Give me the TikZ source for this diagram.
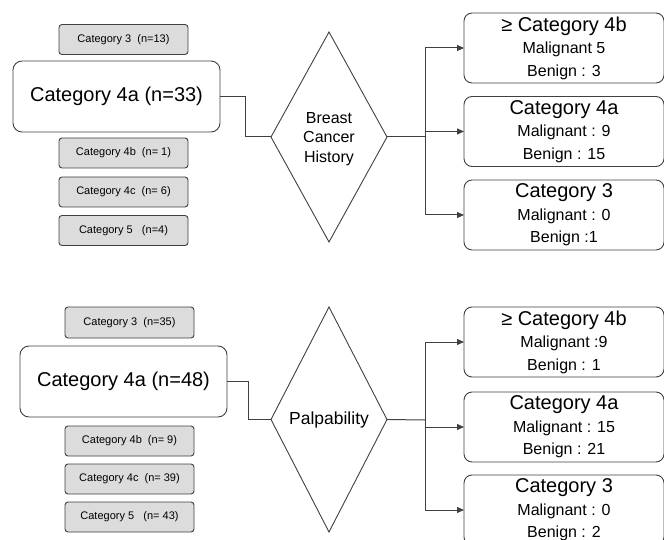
\documentclass[tikz,border=0pt]{standalone}
\usepackage{fontspec}
\setmainfont{Liberation Sans}
\usetikzlibrary{shapes.geometric,arrows.meta}
\definecolor{linegray}{HTML}{404040}
\definecolor{boxfill}{HTML}{DCDCDC}
\tikzset{
  every node/.style={inner sep=0pt, outer sep=0pt},
  smallbox/.style={draw=linegray, line width=0.9pt, fill=boxfill, rounded corners=3pt,
    minimum width=129pt, minimum height=30pt, font=\fontsize{11}{13}\selectfont},
  bigbox/.style={draw=linegray, line width=0.9pt, fill=white, rounded corners=9pt,
    minimum width=207pt, minimum height=71pt, font=\fontsize{20}{24}\selectfont},
  resbox/.style={draw=linegray, line width=0.9pt, fill=white, rounded corners=8pt,
    minimum width=200pt, minimum height=70pt, align=center, font=\fontsize{16}{22.5}\selectfont},
  decide/.style={draw=linegray, line width=0.9pt, shape=diamond, aspect=0.55,
    minimum width=116pt, align=center},
  conn/.style={draw=linegray, line width=1pt},
  arr/.style={conn, -{Triangle[length=7pt,width=6pt]}},
}
\newcommand{\ttl}[1]{{\fontsize{20}{22}\selectfont #1}}
\begin{document}
\begin{tikzpicture}[x=1pt,y=-1pt]
\useasboundingbox (0,0) rectangle (664,540);
\clip (0,0) rectangle (664,540);
% ---------- top ----------
\node[smallbox] (ta3) at (123.5,39.5) {Category 3 \ (n=13)};
\node[bigbox] (tbig) at (116.5,96.5) {Category 4a (n=33)};
\node[smallbox] (ta4b) at (123.5,153) {Category 4b \ (n= 1)};
\node[smallbox] (ta4c) at (123.5,192) {Category 4c \ (n= 6)};
\node[smallbox] (ta5) at (123.5,230.5) {Category 5 \ \ (n=4)};
\node[decide, minimum height=210pt, font=\fontsize{16}{19.5}\selectfont] (tdia) at (329,137) {};
\node[font=\fontsize{16}{19.5}\selectfont, align=center] (tdiatext) at (329,139) {Breast\\Cancer\\History};
\node[resbox] (tr1) at (564,48) {\ttl{≥ Category 4b}\\Malignant 5\\Benign : 3};
\node[resbox] (tr2) at (564,131.5) {\ttl{Category 4a}\\Malignant : 9\\Benign : 15};
\node[resbox] (tr3) at (564,215) {\ttl{Category 3}\\Malignant : 0\\Benign :1};
\coordinate (tj) at (425,137);
\draw[conn] (tbig.east) -- ++(25,0) |- (tdia.west);
\draw[conn] (tdia.east) -- (tj);
\draw[arr] (tj) |- (tr1.west);
\draw[arr] (tj) |- (tr2.west);
\draw[arr] (tj) |- (tr3.west);
% ---------- bottom ----------
\node[smallbox, minimum height=31pt] (ba3) at (129.5,322.5) {Category 3 \ (n=35)};
\node[bigbox] (bbig) at (123.5,381.5) {Category 4a (n=48)};
\node[smallbox] (ba4b) at (129.5,441) {Category 4b \ (n= 9)};
\node[smallbox] (ba4c) at (129.5,479) {Category 4c \ (n= 39)};
\node[smallbox] (ba5) at (129.5,517) {Category 5 \ \ (n= 43)};
\node[decide, minimum height=225pt, font=\fontsize{17.5}{21}\selectfont] (bdia) at (329,419.5) {Palpability};
\node[resbox] (br1) at (564,342) {\ttl{≥ Category 4b}\\Malignant :9\\Benign : 1};
\node[resbox] (br2) at (564,427) {\ttl{Category 4a}\\Malignant : 15\\Benign : 21};
\node[resbox] (br3) at (564,510) {\ttl{Category 3}\\Malignant : 0\\Benign : 2};
\coordinate (bj) at (425,420);
\draw[conn] (bbig.east) -- ++(21,0) |- (bdia.west);
\draw[conn] (bdia.east) -- (bj);
\draw[arr] (bj) |- (br1.west);
\draw[arr] (bj) |- (br2.west);
\draw[arr] (bj) |- (br3.west);
\end{tikzpicture}
\end{document}
